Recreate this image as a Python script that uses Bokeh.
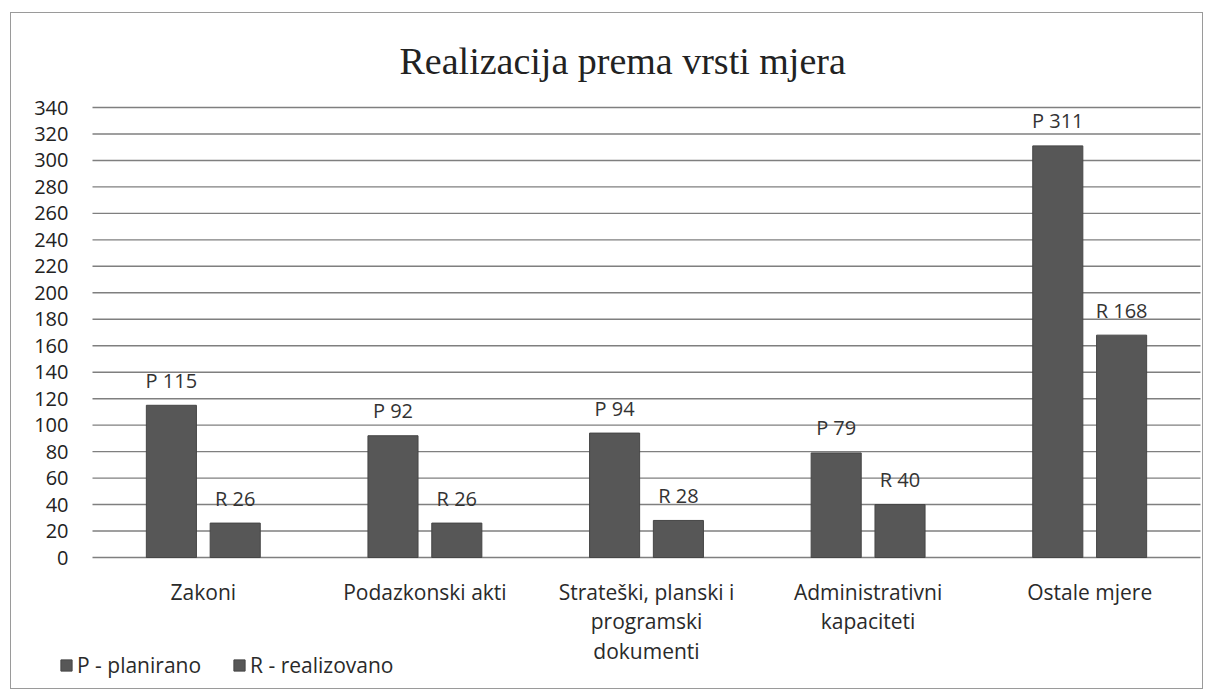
from bokeh.plotting import figure
from bokeh.models import (ColumnDataSource, LabelSet, Range1d, Legend, LegendItem)
from bokeh.core.properties import value
from bokeh.embed import file_html
from bokeh.resources import INLINE

# ---- data ----
categories = ["Zakoni", "Podazkonski akti", "Strateški, planski i\nprogramski\ndokumenti",
              "Administrativni\nkapaciteti", "Ostale mjere"]
planirano = [115, 92, 94, 79, 311]
realizovano = [26, 26, 28, 40, 168]
series_names = ["P - planirano", "R - realizovano"]
series_prefix = ["P", "R"]
y_ticks = list(range(0, 341, 20))
title_text = "Realizacija prema vrsti mjera"

FONT = "Open Sans"
BAR = "#575757"
TXT = "#2a2a2a"

# ---- layout constants (pixels) ----
W, H = 1193, 677
TOP = 82                   # space for title
PLOT_L, PLOT_R = 81, 1189  # plotting area within frame (x px)
PLOT_T, PLOT_B = 12, 462   # plotting area within frame (y px from frame top)
ymax = y_ticks[-1]
ncat = len(categories)
px_per_x = (PLOT_R - PLOT_L) / ncat
px_per_y = (PLOT_B - PLOT_T) / ymax
frame_h = H - TOP
x_range = Range1d(-PLOT_L / px_per_x, ncat + (W - PLOT_R) / px_per_x)
y_range = Range1d(-(frame_h - PLOT_B) / px_per_y, ymax + PLOT_T / px_per_y)

xc = [i + 0.5 for i in range(ncat)]
off, bw = 0.144, 0.226
src = ColumnDataSource(dict(
    xp=[x - off for x in xc], xr=[x + off for x in xc],
    p=planirano, r=realizovano,
    p_lab=[f"{series_prefix[0]} {v}" for v in planirano],
    r_lab=[f"{series_prefix[1]} {v}" for v in realizovano],
))

p = figure(x_range=x_range, y_range=y_range, width=W, height=H,
           output_backend="svg", toolbar_location=None,
           min_border_left=0, min_border_right=0, min_border_bottom=0, min_border_top=TOP,
           title=title_text)
p.styles = {"border": "1px solid #9a9a9a", "margin": "12px 0 0 10px"}
p.axis.visible = False
p.grid.visible = False
p.outline_line_color = None

p.title.text_font = "Liberation Serif"
p.title.text_font_size = "38px"
p.title.text_font_style = "normal"
p.title.text_color = "#222222"
p.title.align = "left"
p.title.offset = 388
p.title.standoff = 28

# gridlines + y tick labels from the tick list
gsrc = ColumnDataSource(dict(y=y_ticks, x0=[0] * len(y_ticks), x1=[ncat] * len(y_ticks),
                             t=[str(v) for v in y_ticks]))
p.segment(x0="x0", y0="y", x1="x1", y1="y", source=gsrc, line_color="#7f7f7f", line_width=1.4)
p.add_layout(LabelSet(x="x0", y="y", text="t", source=gsrc, x_offset=-24,
                      text_align="right", text_baseline="middle",
                      text_font=value(FONT), text_font_size="20px", text_color="#222222"))

rp = p.vbar(x="xp", top="p", width=bw, source=src, fill_color=BAR, line_color="#464646")
rr = p.vbar(x="xr", top="r", width=bw, source=src, fill_color=BAR, line_color="#464646")

for xcol, col, lab in (("xp", "p", "p_lab"), ("xr", "r", "r_lab")):
    p.add_layout(LabelSet(x=xcol, y=col, text=lab, source=src,
                          text_align="center", text_baseline="middle", y_offset=25,
                          text_font=value(FONT), text_font_size="20px", text_color="#333333"))

# category labels, one LabelSet per text line
nlines = max(len(c.split("\n")) for c in categories)
for i in range(nlines):
    xs, ts = [], []
    for x, c in zip(xc, categories):
        parts = c.split("\n")
        if i < len(parts):
            xs.append(x)
            ts.append(parts[i])
    lsrc = ColumnDataSource(dict(x=xs, y=[0] * len(xs), t=ts))
    p.add_layout(LabelSet(x="x", y="y", text="t", source=lsrc, y_offset=-34 - 29.5 * i,
                          text_align="center", text_baseline="middle",
                          text_font=value(FONT), text_font_size="21px", text_color=TXT))

legend = Legend(items=[LegendItem(label=series_names[0], renderers=[rp]),
                       LegendItem(label=series_names[1], renderers=[rr])],
                location=(48, 11), orientation="horizontal",
                glyph_width=14, glyph_height=14, label_standoff=4, spacing=31,
                padding=0, margin=0, border_line_color=None, background_fill_alpha=0,
                label_text_font=FONT, label_text_font_size="21px", label_text_color=TXT)
p.add_layout(legend, "center")

open("out.html", "w").write(file_html(p, INLINE))
